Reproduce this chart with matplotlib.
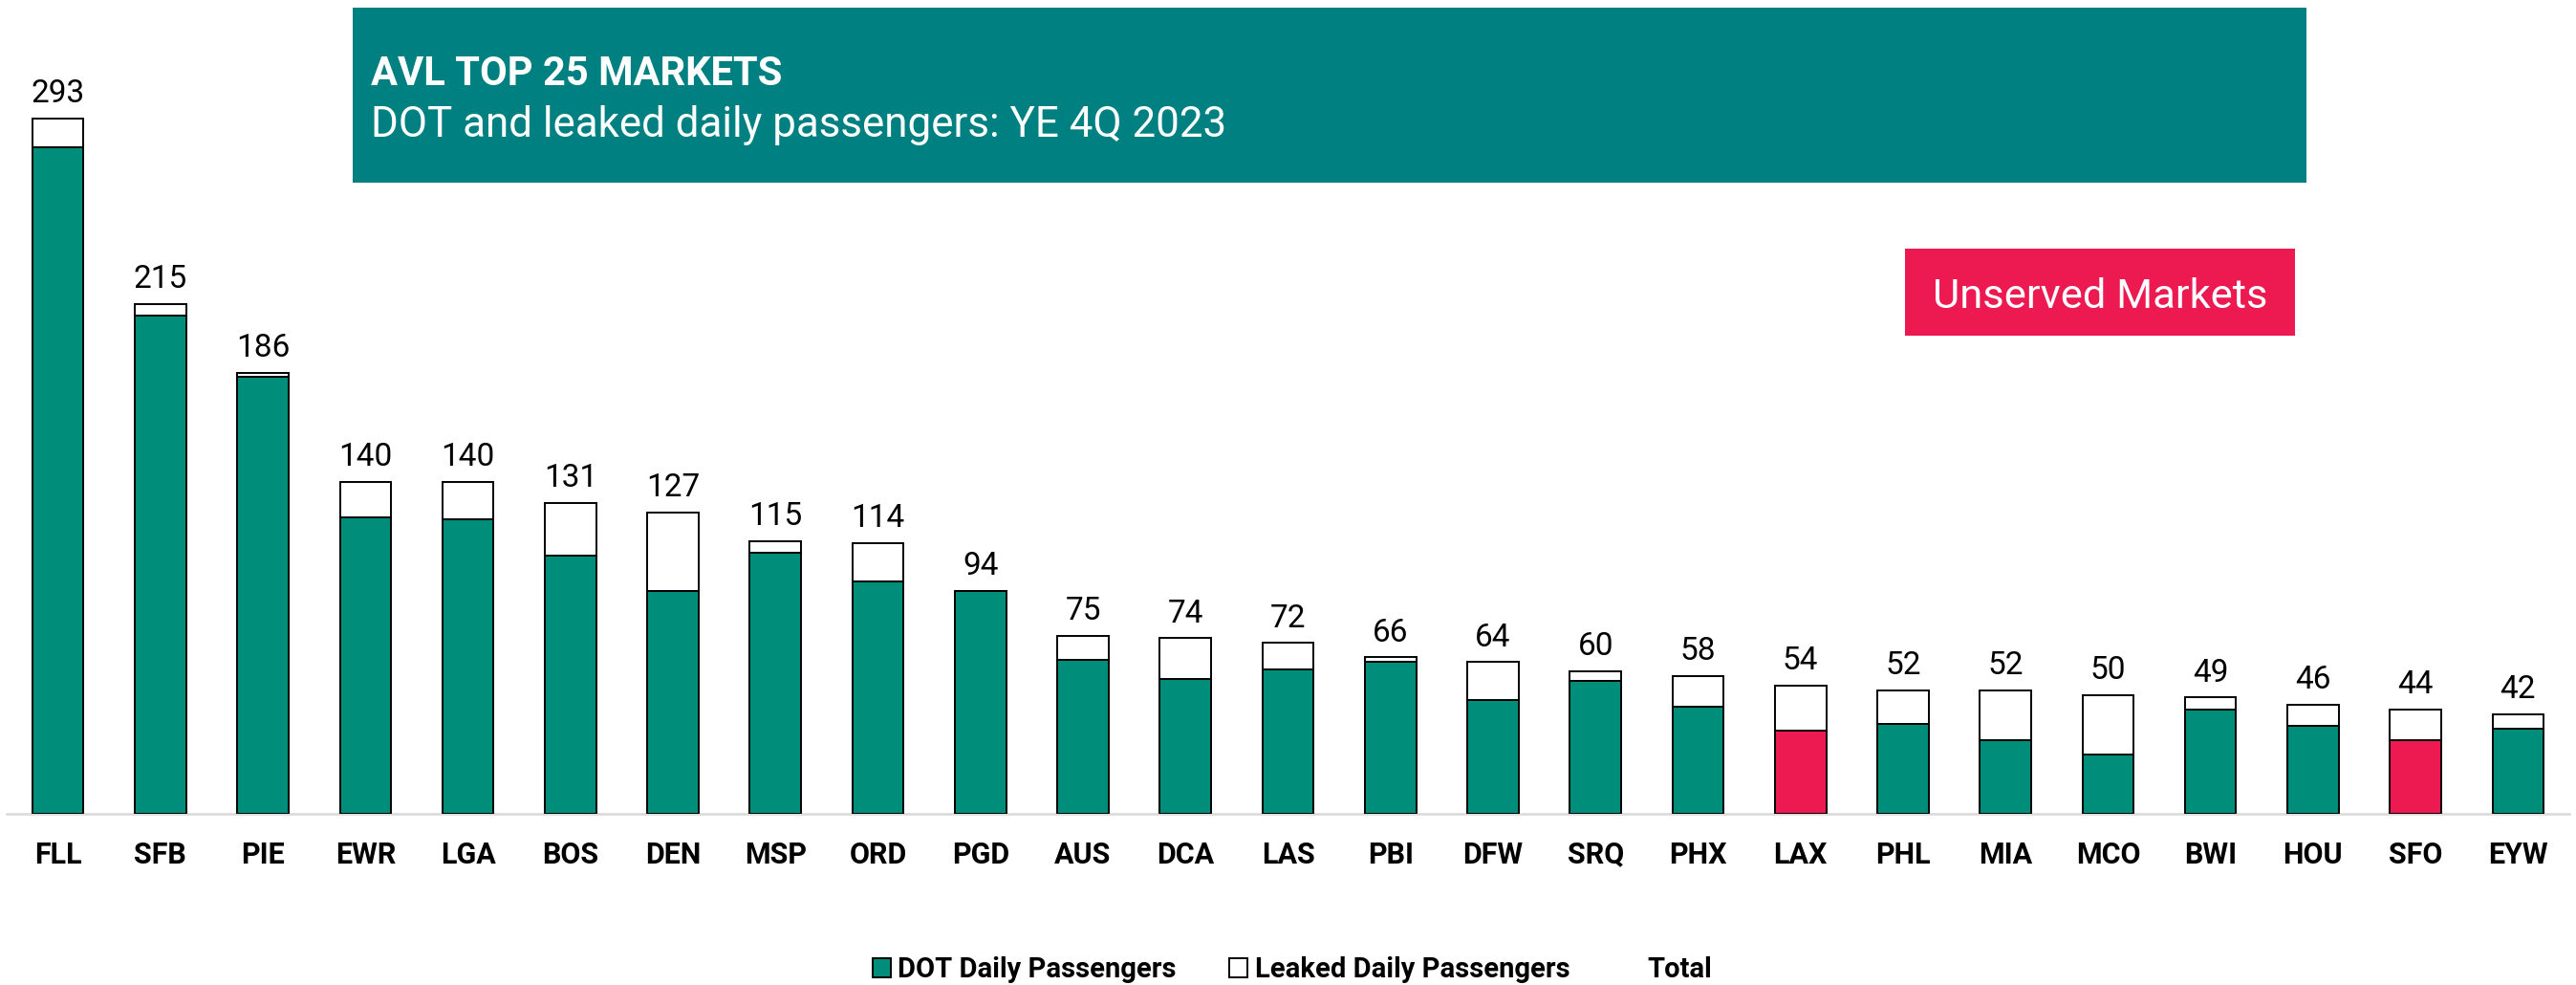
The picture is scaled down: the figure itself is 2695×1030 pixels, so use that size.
import matplotlib
matplotlib.use("Agg")
import matplotlib.pyplot as plt
from matplotlib.patches import Rectangle, Patch
from matplotlib.lines import Line2D

plt.rcParams["font.family"] = ["Roboto", "DejaVu Sans"]

# Daily passengers per market, year ending 4Q 2023
markets = ["FLL", "SFB", "PIE", "EWR", "LGA", "BOS", "DEN", "MSP", "ORD", "PGD",
           "AUS", "DCA", "LAS", "PBI", "DFW", "SRQ", "PHX", "LAX", "PHL", "MIA",
           "MCO", "BWI", "HOU", "SFO", "EYW"]
totals = [293, 215, 186, 140, 140, 131, 127, 115, 114, 94,
          75, 74, 72, 66, 64, 60, 58, 54, 52, 52,
          50, 49, 46, 44, 42]
dot_daily = [281, 210, 184, 125, 124, 109, 94, 110, 98, 94,
             65, 57, 61, 64, 48, 56, 45, 35, 38, 31,
             25, 44, 37, 31, 36]
unserved = ["LAX", "SFO"]

leaked_daily = [t - d for t, d in zip(totals, dot_daily)]

TEAL_BAR = "#008E7A"
TEAL_BOX = "#008080"
CRIMSON = "#ED1A52"

W, H = 2695, 1030
fig = plt.figure(figsize=(W / 100, H / 100), dpi=100)

base_y = 851
ax = fig.add_axes([7 / W, (H - base_y) / H, (2688 - 7) / W, base_y / H])

x = list(range(len(markets)))
dot_colors = [CRIMSON if m in unserved else TEAL_BAR for m in markets]

ax.bar(x, dot_daily, width=0.5, color=dot_colors, edgecolor="black",
       linewidth=1.4, zorder=3)
ax.bar(x, leaked_daily, bottom=dot_daily, width=0.5, color="white",
       edgecolor="black", linewidth=1.4, zorder=3)

for xi, t in zip(x, totals):
    ax.annotate(f"{t}", xy=(xi, t), xytext=(0, 12), textcoords="offset points",
                ha="center", va="baseline", fontsize=24, color="black")

ax.set_xlim(-0.5, len(markets) - 0.5)
ax.set_ylim(0, base_y / 2.481)
ax.set_xticks(x)
ax.set_xticklabels(markets, fontsize=22, fontweight="bold")
ax.tick_params(axis="x", length=0, pad=20)
ax.set_yticks([])
for side in ("top", "right", "left"):
    ax.spines[side].set_visible(False)
ax.spines["bottom"].set_color("#D9D9D9")
ax.spines["bottom"].set_linewidth(1.8)
ax.spines["bottom"].set_zorder(2)

# Title banner
fig.patches.append(Rectangle((369 / W, (H - 191) / H), (2413 - 369) / W, (191 - 8) / H,
                             transform=fig.transFigure, facecolor=TEAL_BOX,
                             edgecolor="none", zorder=1))
fig.text(388 / W, (H - 89) / H, "AVL TOP 25 MARKETS", color="white",
         fontsize=30, fontweight="bold", va="baseline", ha="left", zorder=2)
fig.text(388 / W, (H - 143) / H, "DOT and leaked daily passengers: YE 4Q 2023",
         color="white", fontsize=31.6, va="baseline", ha="left", zorder=2)

# Unserved markets tag
fig.patches.append(Rectangle((1993 / W, (H - 351) / H), (2401 - 1993) / W, (351 - 260) / H,
                             transform=fig.transFigure, facecolor=CRIMSON,
                             edgecolor="none", zorder=1))
fig.text(2197 / W, (H - 322) / H, "Unserved Markets", color="white",
         fontsize=31.3, va="baseline", ha="center", zorder=2)

handles = [
    Patch(facecolor=TEAL_BAR, edgecolor="black", linewidth=1.4),
    Patch(facecolor="white", edgecolor="black", linewidth=1.4),
    Line2D([], [], linestyle="none", marker=None),
]
labels = ["DOT Daily Passengers", "Leaked Daily Passengers", "Total"]
leg = fig.legend(handles, labels, loc="center", bbox_to_anchor=(0.5018, 0.0155),
                 ncol=3, frameon=False, handlelength=0.65, handleheight=0.65,
                 handletextpad=0.25, columnspacing=1.9,
                 prop={"size": 21, "weight": "bold"})

fig.savefig("out.png", dpi=100)
